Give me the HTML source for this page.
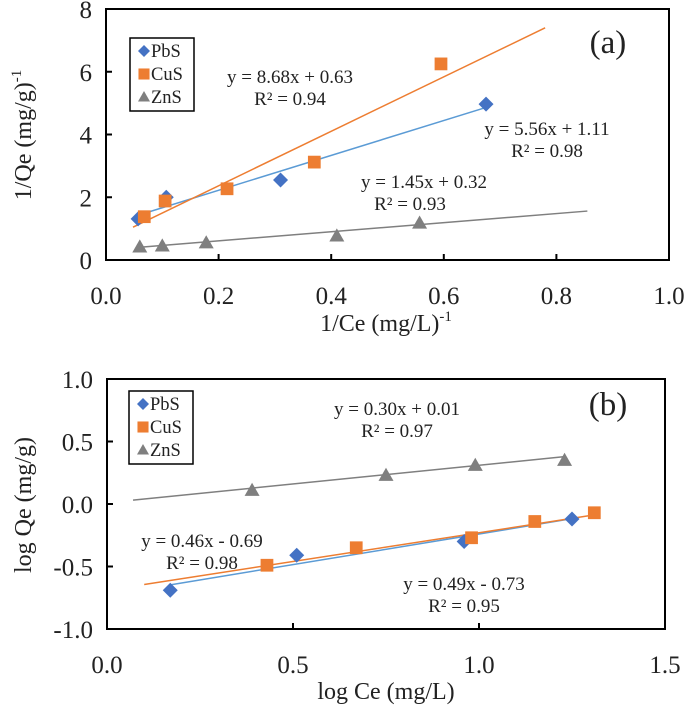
<!DOCTYPE html>
<html><head><meta charset="utf-8"><style>
html,body{margin:0;padding:0;background:#fff;}
svg text{font-family:"Liberation Serif",serif;fill:#222;}
</style></head><body>
<svg id="s" width="685" height="710" xmlns="http://www.w3.org/2000/svg"></svg>
<script>
// Chart (a)
const aXTicks=[0.0,0.2,0.4,0.6,0.8,1.0];
const aYTicks=[0,2,4,6,8];
const aPbSx=[0.057,0.107,0.31,0.675];
const aPbSy=[1.31,2.0,2.55,4.97];
const aCuSx=[0.068,0.105,0.215,0.37,0.595];
const aCuSy=[1.38,1.88,2.27,3.12,6.25];
const aZnSx=[0.06,0.1,0.178,0.41,0.557];
const aZnSy=[0.42,0.45,0.55,0.77,1.18];
const aFitSlope=[5.56,8.68,1.45];
const aFitInt=[1.11,0.63,0.32];
const aFitRange=[[0.057,0.675],[0.048,0.78],[0.055,0.855]];
// Chart (b)
const bXTicks=[0.0,0.5,1.0,1.5];
const bYTicks=[-1.0,-0.5,0.0,0.5,1.0];
const bPbSx=[0.17,0.51,0.96,1.25];
const bPbSy=[-0.69,-0.41,-0.30,-0.12];
const bCuSx=[0.43,0.67,0.98,1.15,1.31];
const bCuSy=[-0.49,-0.35,-0.27,-0.14,-0.07];
const bZnSx=[0.39,0.75,0.99,1.23];
const bZnSy=[0.11,0.23,0.31,0.35];
const bFitSlope=[0.49,0.46,0.30];
const bFitInt=[-0.73,-0.69,0.01];
const bFitRange=[[0.17,1.25],[0.1,1.31],[0.07,1.23]];

const S=document.getElementById('s');
const NS='http://www.w3.org/2000/svg';
function el(t,a,txt){const e=document.createElementNS(NS,t);for(const k in a)e.setAttribute(k,a[k]);if(txt!==undefined)e.textContent=txt;S.appendChild(e);return e;}
const colors=['#4472C4','#ED7D31','#7F7F7F'];
const lineColors=['#5B9BD5','#ED7D31','#7F7F7F'];

function marker(kind,x,y,sz){
  let e;
  if(kind===0){e=el('polygon',{points:`${x},${y-sz} ${x+sz},${y} ${x},${y+sz} ${x-sz},${y}`,fill:colors[0]});}
  else if(kind===1){e=el('rect',{x:x-sz*0.85,y:y-sz*0.85,width:sz*1.7,height:sz*1.7,fill:colors[1]});}
  else {e=el('polygon',{points:`${x},${y-sz} ${x+sz},${y+sz*0.75} ${x-sz},${y+sz*0.75}`,fill:colors[2]});}
  return e;
}

function chart(cfg){
  const X=v=>cfg.x0+(v-cfg.xmin)/(cfg.xmax-cfg.xmin)*(cfg.x1-cfg.x0);
  const Y=v=>cfg.y1-(v-cfg.ymin)/(cfg.ymax-cfg.ymin)*(cfg.y1-cfg.y0);
  let r=el('rect',{x:cfg.x0,y:cfg.y0,width:cfg.x1-cfg.x0,height:cfg.y1-cfg.y0,fill:'none',stroke:'#000','stroke-width':2});
  
  
  cfg.xt.forEach(v=>{
    const t=el('line',{x1:X(v),x2:X(v),y1:cfg.y1,y2:cfg.y1-6,stroke:'#000','stroke-width':2});
    
    
    const l=el('text',{x:X(v),y:cfg.y1+44,'text-anchor':'middle','font-size':25},v.toFixed(1));
    
    
  });
  cfg.yt.forEach(v=>{
    const t=el('line',{x1:cfg.x0,x2:cfg.x0+6,y1:Y(v),y2:Y(v),stroke:'#000','stroke-width':2});
    
    
    const l=el('text',{x:cfg.x0-14,y:Y(v)+9,'text-anchor':'end','font-size':25},cfg.yfmt(v));
    
    
  });
  cfg.fits.forEach((f,i)=>{
    const [a,b]=f.range;
    const l=el('line',{x1:X(a),y1:Y(f.m*a+f.c),x2:X(b),y2:Y(f.m*b+f.c),stroke:lineColors[i],'stroke-width':1.5});
    
    
  });
  cfg.series.forEach((s,i)=>{
    s.x.forEach((xv,j)=>{
      const m=marker(i,X(xv),Y(s.y[j]),7.5);
      
      
    });
  });
}

chart({id:'a',x0:106,x1:669,y0:9,y1:260,xmin:0,xmax:1,ymin:0,ymax:8,xt:aXTicks,yt:aYTicks,yfmt:v=>String(v),
  fits:aFitSlope.map((m,i)=>({m:m,c:aFitInt[i],range:aFitRange[i]})),
  series:[{x:aPbSx,y:aPbSy},{x:aCuSx,y:aCuSy},{x:aZnSx,y:aZnSy}]});
chart({id:'b',x0:107,x1:665,y0:379,y1:629,xmin:0,xmax:1.5,ymin:-1,ymax:1,xt:bXTicks,yt:bYTicks,yfmt:v=>v.toFixed(1),
  fits:bFitSlope.map((m,i)=>({m:m,c:bFitInt[i],range:bFitRange[i]})),
  series:[{x:bPbSx,y:bPbSy},{x:bCuSx,y:bCuSy},{x:bZnSx,y:bZnSy}]});

function legend(id,x,y){
  const b=el('rect',{x:x,y:y,width:64,height:73,fill:'#fff',stroke:'#000','stroke-width':1.5});
  
  
  ['PbS','CuS','ZnS'].forEach((n,i)=>{
    const cy=y+13+i*23;
    const m=marker(i,x+14,cy,i===1?6.5:6);
    
    
    const t=el('text',{x:x+21,y:cy+6,'font-size':18.5},n);
    
    
  });
}
legend('a',130,38);
legend('b',129,391);

function txt(name,x,y,s,size,anchor){
  const t=el('text',{x:x,y:y,'font-size':size||19,'text-anchor':anchor||'middle'},s);
  
  
  return t;
}
txt('eq-a-cus',290,83,'y = 8.68x + 0.63');
txt('r2-a-cus',290,105,'R² = 0.94');
txt('eq-a-pbs',547,135,'y = 5.56x + 1.11');
txt('r2-a-pbs',547,157,'R² = 0.98');
txt('eq-a-zns',424,188,'y = 1.45x + 0.32');
txt('r2-a-zns',410,210,'R² = 0.93');
txt('panel-label-a',608,53,'(a)',33);
txt('eq-b-zns',397,415,'y = 0.30x + 0.01');
txt('r2-b-zns',397,437,'R² = 0.97');
txt('eq-b-cus',202,547,'y = 0.46x - 0.69');
txt('r2-b-cus',202,569,'R² = 0.98');
txt('eq-b-pbs',464,590,'y = 0.49x - 0.73');
txt('r2-b-pbs',464,612,'R² = 0.95');
txt('panel-label-b',608,415,'(b)',33);

// axis titles
let t=el('text',{x:386,y:331,'text-anchor':'middle','font-size':24});


t.innerHTML='1/Ce (mg/L)<tspan dy="-10" font-size="15">-1</tspan>';
t=el('text',{x:0,y:0,'text-anchor':'middle','font-size':24,transform:'translate(31,135) rotate(-90)'});


t.innerHTML='1/Qe (mg/g)<tspan dy="-10" font-size="15">-1</tspan>';
txt('x-axis-title-b',386,699,'log Ce (mg/L)',24);
t=el('text',{x:0,y:0,'text-anchor':'middle','font-size':24,transform:'translate(31,505) rotate(-90)'},'log Qe (mg/g)');


</script>
</body></html>
